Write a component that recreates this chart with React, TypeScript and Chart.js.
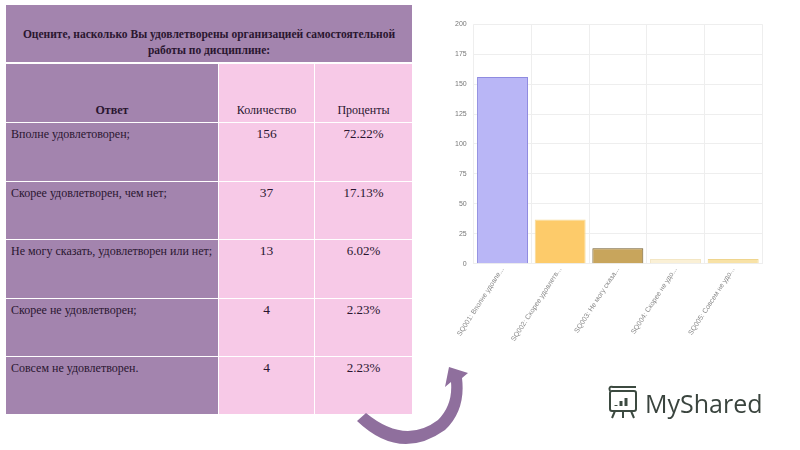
import React, { useEffect, useRef } from "react";
import { Chart, registerables } from "chart.js";

Chart.register(...registerables);

const questionTitle = "Оцените, насколько Вы удовлетворены организацией самостоятельной работы по дисциплине:";
const headers = ["Ответ", "Количество", "Проценты"];
const answers = [
  "Вполне удовлетоворен;",
  "Скорее удовлетворен, чем нет;",
  "Не могу сказать, удовлетворен или нет;",
  "Скорее не удовлетворен;",
  "Совсем не удовлетворен.",
];
const counts = [156, 37, 13, 4, 4];
const percents = ["72.22%", "17.13%", "6.02%", "2.23%", "2.23%"];
const chartLabels = [
  "SQ001: Вполне удовле...",
  "SQ002: Скорее удовлетв...",
  "SQ003: Не могу сказа...",
  "SQ004: Скорее не удо...",
  "SQ005: Совсем не удо...",
];
const barFill = ["#b9b6f6", "#fdcb6a", "#c8a55c", "#faf0d6", "#f8e2a6"];
const barBorder = ["#8f8be0", "#f5dc98", "#6e5a2c", "#f3e6c4", "#efd58e"];

const PURPLE = "#a384ae";
const PINK = "#f7c9e7";
const TXT = "#2a1630";

function ChartBox() {
  const ref = useRef<HTMLCanvasElement | null>(null);
  useEffect(() => {
    if (!ref.current) return;
    const chart = new Chart(ref.current, {
      type: "bar",
      data: {
        labels: chartLabels,
        datasets: [
          {
            data: counts,
            backgroundColor: barFill,
            borderColor: barBorder,
            borderWidth: 1,
            categoryPercentage: 0.95,
            barPercentage: 0.93,
          },
        ],
      },
      options: {
        animation: false,
        responsive: false,
        maintainAspectRatio: false,
        layout: { padding: { left: 0, right: 8, top: 8, bottom: 0 } },
        plugins: { legend: { display: false }, tooltip: { enabled: false } },
        scales: {
          y: {
            min: 0,
            max: 200,
            ticks: { stepSize: 25, color: "#777", font: { size: 7, family: "'Liberation Sans', Arial, sans-serif" }, padding: 7 },
            grid: { color: "#eeeeee", drawTicks: false },
            border: { display: false },
          },
          x: {
            ticks: {
              color: "#888",
              font: { size: 7, family: "'Liberation Sans', Arial, sans-serif" },
              minRotation: 57,
              maxRotation: 57,
              autoSkip: false,
              padding: 2,
            },
            grid: { color: "#eeeeee", drawTicks: false, offset: true },
            border: { display: false },
          },
        },
      },
    });
    return () => chart.destroy();
  }, []);
  return (
    <canvas
      ref={ref}
      width={322}
      height={332}
      style={{ position: "absolute", left: 448, top: 13, width: 322, height: 332 }}
    />
  );
}

const rowTops = [122, 181, 239, 298, 356, 414];

export default function App() {
  const serif = "'Liberation Serif', 'DejaVu Serif', serif";
  return (
    <div style={{ position: "absolute", left: 0, top: 0, width: 800, height: 450, background: "#fff", overflow: "hidden", fontFamily: serif, color: TXT }}>
      {/* title */}
      <div style={{ position: "absolute", left: 6, top: 5, width: 406, height: 57, background: PURPLE, display: "flex", alignItems: "center", justifyContent: "center", textAlign: "center", fontWeight: "bold", fontSize: 11.5, lineHeight: "16px", padding: "17px 8px 0 8px", boxSizing: "border-box" }}>
        {questionTitle}
      </div>
      {/* header row */}
      <div style={{ position: "absolute", left: 6, top: 64, width: 212, height: 58, background: PURPLE }} />
      <div style={{ position: "absolute", left: 219, top: 64, width: 95, height: 58, background: PINK }} />
      <div style={{ position: "absolute", left: 315, top: 64, width: 97, height: 58, background: PINK }} />
      <div style={{ position: "absolute", left: 6, top: 103, width: 212, textAlign: "center", fontWeight: "bold", fontSize: 12 }}>{headers[0]}</div>
      <div style={{ position: "absolute", left: 219, top: 103, width: 95, textAlign: "center", fontSize: 12 }}>{headers[1]}</div>
      <div style={{ position: "absolute", left: 315, top: 103, width: 97, textAlign: "center", fontSize: 12 }}>{headers[2]}</div>
      {answers.map((a, i) => {
        const h = rowTops[i + 1] - rowTops[i] - 1;
        return (
          <React.Fragment key={i}>
            <div style={{ position: "absolute", left: 6, top: rowTops[i] + 1, width: 212, height: h, background: PURPLE }} />
            <div style={{ position: "absolute", left: 219, top: rowTops[i] + 1, width: 95, height: h, background: PINK }} />
            <div style={{ position: "absolute", left: 315, top: rowTops[i] + 1, width: 97, height: h, background: PINK }} />
            <div style={{ position: "absolute", left: 11, top: rowTops[i] + 5, fontSize: 12, whiteSpace: "nowrap" }}>{a}</div>
            <div style={{ position: "absolute", left: 219, top: rowTops[i] + 4, width: 95, textAlign: "center", fontSize: 13.5 }}>{counts[i]}</div>
            <div style={{ position: "absolute", left: 315, top: rowTops[i] + 4, width: 97, textAlign: "center", fontSize: 13 }}>{percents[i]}</div>
          </React.Fragment>
        );
      })}
      <ChartBox />
      {/* arrow */}
      <svg width={800} height={450} style={{ position: "absolute", left: 0, top: 0, pointerEvents: "none" }}>
        <path
          d="M357,421 Q400,462 445,430 Q466,410 462,378 L468,373 L449,367 L445,387 L451,382 Q453,405 438,420 Q405,445 366,413 Z"
          fill="#8f6f9d"
        />
        <g transform="translate(607,386)" fill="none" stroke="#3c4a40" strokeWidth={2}>
          <rect x={3} y={5} width={26} height={20} rx={2} />
          <path d="M3,5 Q1,0 6,1 L29,1" />
          <line x1={8} y1={25} x2={5} y2={32} />
          <line x1={16} y1={25} x2={16} y2={32} />
          <line x1={24} y1={25} x2={27} y2={32} />
          <line x1={9} y1={19} x2={9} y2={20} strokeWidth={3} />
          <line x1={14} y1={20} x2={14} y2={15} strokeWidth={3} />
          <line x1={19} y1={20} x2={19} y2={12} strokeWidth={3} />
        </g>
      </svg>
      <div style={{ position: "absolute", left: 645, top: 388, fontFamily: "'Open Sans', 'Noto Sans', sans-serif", fontSize: 25, color: "#3a443e", lineHeight: "30px" }}>MyShared</div>
    </div>
  );
}
